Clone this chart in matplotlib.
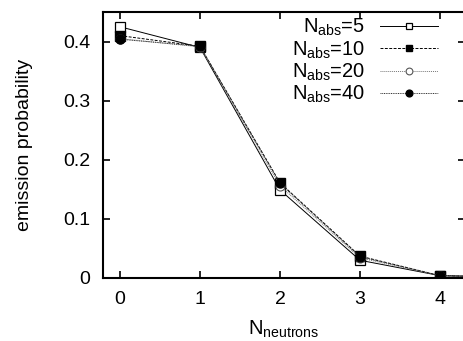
import matplotlib
matplotlib.use("Agg")
import matplotlib.pyplot as plt

plt.rcParams['font.family'] = ['Liberation Sans', 'DejaVu Sans']
plt.rcParams['mathtext.fontset'] = 'custom'
plt.rcParams['mathtext.rm'] = 'Liberation Sans'
plt.rcParams['mathtext.it'] = 'Liberation Sans'
plt.rcParams['mathtext.bf'] = 'Liberation Sans'
plt.rcParams['mathtext.default'] = 'regular'

neutrons = [0, 1, 2, 3, 4, 5]
p_abs5 = [0.425, 0.390, 0.149, 0.030, 0.004, 0.001]
p_abs10 = [0.410, 0.392, 0.161, 0.037, 0.004, 0.001]
p_abs20 = [0.405, 0.391, 0.156, 0.034, 0.004, 0.001]
p_abs40 = [0.404, 0.392, 0.160, 0.036, 0.004, 0.001]
labels = ['N$_{abs}$=5', 'N$_{abs}$=10', 'N$_{abs}$=20', 'N$_{abs}$=40']

fig = plt.figure(figsize=(4.64, 3.41), dpi=100)
ax = fig.add_axes([103/464, 1-278/341, (465-103)/464, (278-12)/341])

lw = 0.7
ax.plot(neutrons, p_abs5, color='black', lw=lw, ls='-', marker='s', ms=6.5,
        mfc='white', mec='black', mew=0.9, label=labels[0])
ax.plot(neutrons, p_abs10, color='black', lw=lw, ls=(0, (3, 1.5)), marker='s', ms=6.5,
        mfc='black', mec='black', label=labels[1])
ax.plot(neutrons, p_abs20, color='#777777', lw=lw, ls=(0, (1, 1)), marker='o', ms=6.5,
        mfc='white', mec='#555555', mew=0.8, label=labels[2])
ax.plot(neutrons, p_abs40, color='#333333', lw=lw, ls=(0, (1, 0.8)), marker='o', ms=6.5,
        mfc='black', mec='black', label=labels[3])

ax.set_xlim(-0.2125, 4.3125)
ax.set_ylim(0, 0.45)
ax.set_xticks([0, 1, 2, 3, 4])
ax.set_yticks([0, 0.1, 0.2, 0.3, 0.4])
ax.set_yticklabels(['0', '0.1', '0.2', '0.3', '0.4'])
ax.tick_params(direction='in', top=True, right=True, length=5, width=1.2,
               labelsize=14, pad=9)
for s in ax.spines.values():
    s.set_linewidth(1.5)

ax.set_xlabel('N$_{neutrons}$', fontsize=14.5, labelpad=8)
ax.set_ylabel('emission probability', fontsize=14, labelpad=22)

leg = ax.legend(loc='upper right', bbox_to_anchor=(448/464, 1-7/341),
                bbox_transform=fig.transFigure, frameon=False, markerfirst=False,
                fontsize=14.5, handlelength=2.9, handletextpad=0.7,
                labelspacing=0.05, borderpad=0.0, markerscale=0.75)
for t in leg.get_texts():
    t.set_ha('right')

fig.savefig('out.png', dpi=100)
